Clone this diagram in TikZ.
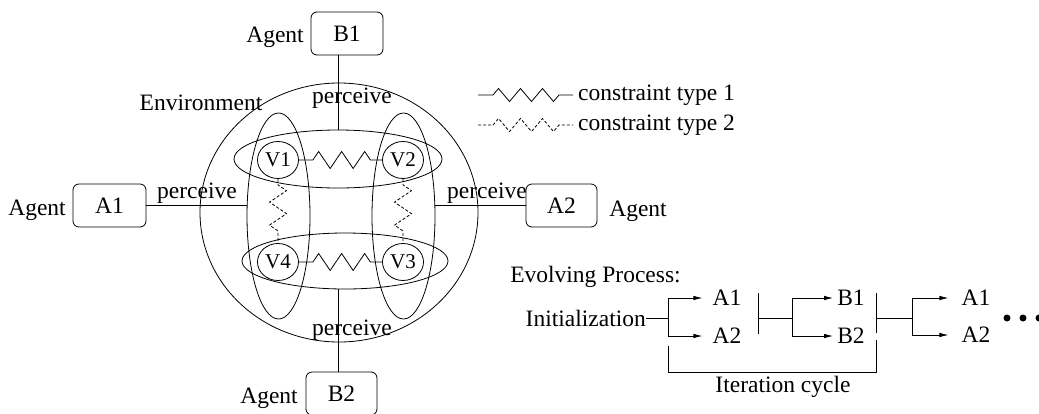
\documentclass[tikz,border=0pt]{standalone}
\usepackage{fontspec}
\setmainfont{Liberation Serif}
\usetikzlibrary{shapes.geometric,decorations.pathmorphing,arrows.meta,calc}

\begin{document}
\begin{tikzpicture}[x=1pt,y=-1pt,
  every node/.style={font=\fontsize{23.5}{28}\selectfont},
  ln/.style={line width=0.8pt},
  agentbox/.style={draw,line width=0.8pt,rounded corners=6pt,minimum width=72pt,minimum height=43pt,inner sep=0pt},
  oval/.style={draw,ellipse,line width=0.8pt,inner sep=0pt},
  var/.style={oval,minimum width=41pt,minimum height=37pt,font=\fontsize{21}{25}\selectfont},
  zig/.style={line width=0.8pt,decorate,decoration={zigzag,segment length=23pt,amplitude=8.5pt,pre length=14pt,post length=6pt}},
  dzig/.style={zig,dash pattern=on 3pt off 2pt},
  arr/.style={line width=0.8pt,-{Latex[length=9pt,width=4.5pt]}},
  proc/.style={inner sep=0pt}]
\useasboundingbox (0,0) rectangle (1039,413);

% environment and variable groupings
\node[oval,minimum width=278pt,minimum height=259pt] (env) at (339,212.5) {};
\node[oval,minimum width=208pt,minimum height=58pt] (Ht) at (338,159) {};
\node[oval,minimum width=206pt,minimum height=56pt] (Hb) at (345,261) {};
\node[oval,minimum width=63pt,minimum height=206pt] (Lv) at (278.5,216) {};
\node[oval,minimum width=63pt,minimum height=206pt] (Rv) at (403.5,216) {};
\node at (201,103) (envlbl) {Environment};

% variables
\node[var] (V1) at (278,160) {V1};
\node[var] (V2) at (403,160) {V2};
\node[var] (V3) at (403,262) {V3};
\node[var] (V4) at (278,262) {V4};

% constraints
\draw[zig] (V1) -- (V2);
\draw[zig] (V4) -- (V3);
\draw[dzig,decoration={pre length=6pt,post length=12pt}] (V1) -- (V4);
\draw[dzig,decoration={pre length=6pt,post length=12pt}] (V2) -- (V3);

% agents
\node[agentbox] (B1) at (347,33.5) {B1};
\node[agentbox,minimum width=73pt] (A1) at (109.5,205.5) {A1};
\node[agentbox,minimum width=71pt] (A2) at (561.5,205.5) {A2};
\node[agentbox,minimum width=71pt] (B2) at (341.5,393.5) {B2};
\node (agB1) at (275,37) {Agent};
\node (agA1) at (37,210) {Agent};
\node (agA2) at (638,211) {Agent};
\node (agB2) at (269,398) {Agent};

% perception links
\draw[ln] (Ht.north) -- (Ht.north |- B1.south);
\draw[ln] (Hb.south -| Ht.north) -- (Ht.north |- B2.north);
\draw[ln] (A1.east) -- (A1.east -| Lv.west);
\draw[ln] (A2.west) -- (A2.west -| Rv.east);
\node (pT) at (352,98) {perceive};
\node (pL) at (197,193) {perceive};
\node (pR) at (487,193) {perceive};
\node (pB) at (352,330) {perceive};

% legend
\coordinate (l1a) at (478,95);
\coordinate (l1b) at (573,95);
\coordinate (l2a) at (478,125);
\coordinate (l2b) at (573,125);
\draw[zig,decoration={segment length=22pt,amplitude=6.5pt,pre length=15pt,post length=12pt}] (l1a) -- (l1b);
\draw[dzig,decoration={segment length=22pt,amplitude=6.5pt,pre length=15pt,post length=12pt}] (l2a) -- (l2b);
\node[anchor=west,inner xsep=0pt] (t1) at (578,95) {constraint type 1};
\node[anchor=west,inner xsep=0pt] (t2) at (578,125) {constraint type 2};

% evolving process
\node (evo) at (595.5,277) {Evolving Process:};
\node[anchor=east,inner xsep=0pt] (init) at (646,318) {Initialization};
\coordinate (f1) at (668,318);
\node[proc] (pA1) at (727,298) {A1};
\node[proc] (pA2) at (727,336) {A2};
\draw[ln] (init.east) -- (f1);
\draw[arr,shorten >=10pt] (f1) |- (pA1.west);
\draw[arr,shorten >=10pt] (f1) |- (pA2.west);

\coordinate (s1t) at (758,293);
\coordinate (s1b) at (758,334);
\coordinate (s1m) at (758,318);
\coordinate (f2) at (792,318);
\draw[ln] (s1t) -- (s1b);
\draw[ln] (s1m) -- (f2);
\node[proc] (pB1) at (851,298) {B1};
\node[proc] (pB2) at (851,336) {B2};
\draw[arr,shorten >=4pt] (f2) |- (pB1.west);
\draw[arr,shorten >=4pt] (f2) |- (pB2.west);

\coordinate (s2t) at (876,293);
\coordinate (s2b) at (876,333);
\coordinate (s2m) at (876,318);
\coordinate (f3) at (912,318);
\draw[ln] (s2t) -- (s2b);
\draw[ln] (s2m) -- (f3);
\node[proc] (qA1) at (976,298) {A1};
\node[proc] (qA2) at (976,335) {A2};
\draw[arr,shorten >=13pt] (f3) |- (qA1.west);
\draw[arr,shorten >=13pt] (f3) |- (qA2.west);

\fill (1007,318) circle (3.5);
\fill (1023,318) circle (3.5);
\fill (1039,318) circle (3.5);

% iteration cycle bracket
\coordinate (brL) at (668,346);
\coordinate (brB) at (876,372);
\coordinate (brR) at (876,340);
\draw[ln] (brL) |- (brB) -- (brR);
\node (iter) at (783,387) {Iteration cycle};
\end{tikzpicture}
\end{document}
